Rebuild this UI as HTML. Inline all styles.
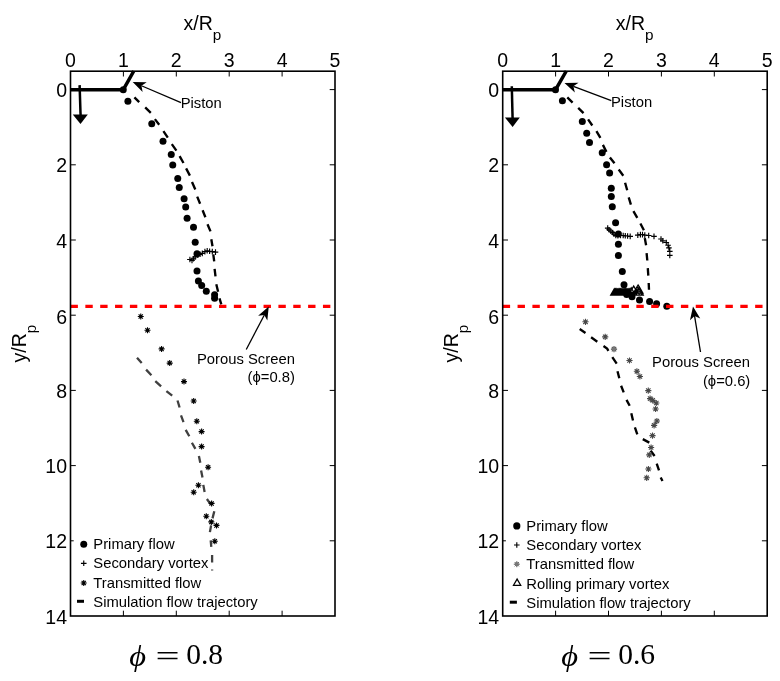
<!DOCTYPE html>
<html lang="en"><head><meta charset="utf-8"><title>Flow trajectories</title>
<style>html,body{margin:0;padding:0;background:#fff}body{width:780px;height:681px;overflow:hidden}svg{display:block}text{font-family:"Liberation Sans",sans-serif;fill:#000}.m{font-family:"Liberation Serif",serif}</style>
</head><body>
<svg width="780" height="681" viewBox="0 0 780 681">
<rect width="780" height="681" fill="#fff"/>
<g>
<path d="M70.5 89.8H123.2L133.8 71" stroke="#000" stroke-width="3.5" fill="none" stroke-linejoin="round"/>
<path d="M79.6 85.1L80.6 116" stroke="#000" stroke-width="2.5" fill="none"/><polygon points="72.8,114.6 87.8,114.6 80.5,124.1" fill="#000"/>
</g>
<g>
<path d="M502.7 89.8H555.5L566.3 71" stroke="#000" stroke-width="3.5" fill="none" stroke-linejoin="round"/>
<path d="M511.8 86.3L512.6 119" stroke="#000" stroke-width="2.5" fill="none"/><polygon points="504.9,117.4 519.8,117.4 512.6,127.1" fill="#000"/>
</g>
<g>
<path d="M134.4 97.3 L139.2 102.1M145.2 107.4 L150.8 112.9M154.9 119.1 L159.2 124.7M163.4 131.2 L167.8 137.7M171.8 144.1 L176.4 150.6M179.6 156.2 L183.5 163M186.1 168.4 L189.9 175.6M192 182.1 L195.3 189.4M197.2 196.6 L200.1 203.7M202.6 210.2 L205.4 217.3M207.5 224.3 L210.5 231.4M211.3 239.3 L212.5 246.3M213.3 254.3 L214.2 261.3M214.6 268.9 L215.5 276.3M216.3 284.2 L218.1 291.8M219.5 298.3 L221.3 304.4" stroke="#000" stroke-width="2.35" fill="none" stroke-linejoin="round"/>
<path d="M137 357.7 L141.7 363M146.1 369.6 L151.4 375.3M155.3 381.1 L161.1 386.4M166.4 391.1 L172.2 395.7M177.5 400.5 L179.6 407.5M181 415.4 L183.5 422.1M185.7 429.9 L189.3 436.2M191.9 442.7 L195.4 448.9M198.9 455.9 L200.3 462.8M201.1 470.5 L202.5 477.5M203.3 484.9 L204.6 492M206.9 499 L210.7 504.3M214.3 511.3 L212.5 518.4M211.1 525.4 L209.9 532.1M210.7 540.4 L211.3 546.9M212.1 555 L212.1 562.4M212.1 569.4 L212.1 570.6" stroke="#404040" stroke-width="2.3" fill="none" stroke-linejoin="round"/>
<circle cx="123.25" cy="89.7" r="3.5"/><circle cx="127.9" cy="101.2" r="3.5"/><circle cx="151.75" cy="123.75" r="3.5"/><circle cx="163" cy="141.25" r="3.5"/><circle cx="171.25" cy="154.5" r="3.5"/><circle cx="172.75" cy="165" r="3.5"/><circle cx="177.75" cy="178.5" r="3.5"/><circle cx="179.25" cy="187.5" r="3.5"/><circle cx="184.1" cy="198.8" r="3.5"/><circle cx="185.7" cy="207.1" r="3.5"/><circle cx="187.1" cy="218.2" r="3.5"/><circle cx="193.5" cy="227.3" r="3.5"/><circle cx="195.2" cy="242.3" r="3.5"/><circle cx="197" cy="253.7" r="3.5"/><circle cx="197" cy="271" r="3.5"/><circle cx="198.4" cy="281" r="3.5"/><circle cx="201.7" cy="285.6" r="3.5"/><circle cx="206.3" cy="291.2" r="3.5"/><circle cx="214.6" cy="294.8" r="3.5"/><circle cx="214.6" cy="298.3" r="3.5"/>
<path d="M187.1 259.5h5.6M189.9 256.7v5.6M189.2 260.4h5.6M192 257.6v5.6M190.7 258.7h5.6M193.5 255.9v5.6M192.4 256.9h5.6M195.2 254.1v5.6M195.1 255.1h5.6M197.9 252.3v5.6M197.3 254.3h5.6M200.1 251.5v5.6M199.5 253.4h5.6M202.3 250.6v5.6M202.1 251.6h5.6M204.9 248.8v5.6M204.4 250.7h5.6M207.2 247.9v5.6M206.8 251.3h5.6M209.6 248.5v5.6M209.5 251.6h5.6M212.3 248.8v5.6M212.7 252.1h5.6M215.5 249.3v5.6" stroke="#000" stroke-width="1.15" fill="none"/>
<path d="M137.75 316.5h6M140.75 313.5v6M138.63 314.38l4.24 4.24M138.63 318.62l4.24 -4.24M144.5 330.25h6M147.5 327.25v6M145.38 328.13l4.24 4.24M145.38 332.37l4.24 -4.24M158.6 348.9h6M161.6 345.9v6M159.48 346.78l4.24 4.24M159.48 351.02l4.24 -4.24M166.7 363.1h6M169.7 360.1v6M167.58 360.98l4.24 4.24M167.58 365.22l4.24 -4.24M181 381.6h6M184 378.6v6M181.88 379.48l4.24 4.24M181.88 383.72l4.24 -4.24M190.7 401h6M193.7 398v6M191.58 398.88l4.24 4.24M191.58 403.12l4.24 -4.24M193.8 421.2h6M196.8 418.2v6M194.68 419.08l4.24 4.24M194.68 423.32l4.24 -4.24M198.6 431.6h6M201.6 428.6v6M199.48 429.48l4.24 4.24M199.48 433.72l4.24 -4.24M198.6 446.6h6M201.6 443.6v6M199.48 444.48l4.24 4.24M199.48 448.72l4.24 -4.24M205.1 467.3h6M208.1 464.3v6M205.98 465.18l4.24 4.24M205.98 469.42l4.24 -4.24M195.4 485.3h6M198.4 482.3v6M196.28 483.18l4.24 4.24M196.28 487.42l4.24 -4.24M190.7 492.3h6M193.7 489.3v6M191.58 490.18l4.24 4.24M191.58 494.42l4.24 -4.24M208.6 503.4h6M211.6 500.4v6M209.48 501.28l4.24 4.24M209.48 505.52l4.24 -4.24M203.3 516.3h6M206.3 513.3v6M204.18 514.18l4.24 4.24M204.18 518.42l4.24 -4.24M208.3 521.9h6M211.3 518.9v6M209.18 519.78l4.24 4.24M209.18 524.02l4.24 -4.24M213.5 525.4h6M216.5 522.4v6M214.38 523.28l4.24 4.24M214.38 527.52l4.24 -4.24M211.8 541.3h6M214.8 538.3v6M212.68 539.18l4.24 4.24M212.68 543.42l4.24 -4.24" stroke="#000" stroke-width="1.1" fill="none"/>
</g>
<g>
<path d="M567.3 97.3 L572.6 102.6M578.2 107.9 L583.5 113.2M588.1 119.3 L592.3 125.5M596.4 131.1 L600.4 137.8M602.9 144.9 L606.4 151.9M609.9 157.5 L614.5 163.3M618.7 169.5 L623.3 175.7M625.1 182.7 L627.2 190.3M628.7 197.4 L630.9 204.7M633.4 211.2 L637.3 217.9M640.4 223.5 L643.9 230.2M644.8 238.1 L646.1 245.2M646.6 253.1 L647.3 260.5M647.8 268.1 L648.3 275.6M648.7 283 L649 289.7" stroke="#000" stroke-width="2.35" fill="none" stroke-linejoin="round"/>
<path d="M579.7 329 L585.5 332.9M591.1 337.3 L597.3 341.7M603.5 346.1 L607 348.4 L608.4 350.8M612.3 357.2 L616.7 363.7M617.5 371.3 L619.3 378.3M621.1 385.7 L623.7 392.4M626.5 399.9 L629.7 405.8M631.3 413.3 L633 420.5M634.9 427.4 L637.3 434.3M642.8 439.1 L649.3 442.6M650.7 450.7 L654.6 456M656.7 463.7 L659 470.4M660.7 477.5 L662.5 481" stroke="#000" stroke-width="2.35" fill="none" stroke-linejoin="round"/>
<circle cx="555.5" cy="89.7" r="3.5"/><circle cx="562.4" cy="100.8" r="3.5"/><circle cx="582.3" cy="121.4" r="3.5"/><circle cx="586.7" cy="133.2" r="3.5"/><circle cx="589.5" cy="142.4" r="3.5"/><circle cx="602.2" cy="152.8" r="3.5"/><circle cx="606.6" cy="164.8" r="3.5"/><circle cx="609.6" cy="173" r="3.5"/><circle cx="611.3" cy="188.3" r="3.5"/><circle cx="611.3" cy="196.5" r="3.5"/><circle cx="612.3" cy="206.8" r="3.5"/><circle cx="615.6" cy="222.8" r="3.5"/><circle cx="618.4" cy="234.1" r="3.5"/><circle cx="618.4" cy="244.3" r="3.5"/><circle cx="618.4" cy="255.4" r="3.5"/><circle cx="622.3" cy="271.6" r="3.5"/><circle cx="624" cy="284.8" r="3.5"/><circle cx="626.7" cy="294.5" r="3.5"/><circle cx="632" cy="296.8" r="3.5"/><circle cx="639.5" cy="300.1" r="3.5"/><circle cx="649.6" cy="301.5" r="3.5"/><circle cx="656.6" cy="303.8" r="3.5"/><circle cx="666.8" cy="306.3" r="3.5"/>
<path d="M604.9 228.1h5.6M607.7 225.3v5.6M606.3 229.7h5.6M609.1 226.9v5.6M608 231.1h5.6M610.8 228.3v5.6M609.8 232.5h5.6M612.6 229.7v5.6M611.2 234.1h5.6M614 231.3v5.6M613 235.5h5.6M615.8 232.7v5.6M615.1 235.8h5.6M617.9 233v5.6M617.7 235.5h5.6M620.5 232.7v5.6M620.4 235.5h5.6M623.2 232.7v5.6M622.5 235.8h5.6M625.3 233v5.6M624.8 236h5.6M627.6 233.2v5.6M627.4 236.4h5.6M630.2 233.6v5.6M635 235.1h5.6M637.8 232.3v5.6M637.6 234.6h5.6M640.4 231.8v5.6M639.7 234.6h5.6M642.5 231.8v5.6M642 235.1h5.6M644.8 232.3v5.6M645.9 235.5h5.6M648.7 232.7v5.6M651.2 236.4h5.6M654 233.6v5.6M658.2 239h5.6M661 236.2v5.6M660 240.8h5.6M662.8 238v5.6M663.5 242.5h5.6M666.3 239.7v5.6M665.3 245.2h5.6M668.1 242.4v5.6M666.1 247.8h5.6M668.9 245v5.6M667 251.3h5.6M669.8 248.5v5.6M667 255.4h5.6M669.8 252.6v5.6" stroke="#000" stroke-width="1.15" fill="none"/>
<path d="M610.7 295L614.3 288.8L617.9 295ZM611.95 295L615.55 288.8L619.15 295ZM613.2 295L616.8 288.8L620.4 295ZM614.45 295L618.05 288.8L621.65 295ZM615.7 295L619.3 288.8L622.9 295ZM616.95 295L620.55 288.8L624.15 295ZM618.2 295L621.8 288.8L625.4 295ZM619.45 295L623.05 288.8L626.65 295ZM620.7 295L624.3 288.8L627.9 295ZM621.95 295L625.55 288.8L629.15 295ZM623.2 295L626.8 288.8L630.4 295ZM624.45 295L628.05 288.8L631.65 295ZM625.7 295L629.3 288.8L632.9 295ZM627.6 294L631.2 287.8L634.8 294ZM630.1 292.3L633.7 286.1L637.3 292.3ZM632.4 295L636 288.8L639.6 295ZM634.6 295L638.2 288.8L641.8 295ZM636.1 295L639.7 288.8L643.3 295ZM633.4 293L637 286.8L640.6 293ZM635.7 293L639.3 286.8L642.9 293ZM634.5 291.2L638.1 285L641.7 291.2Z" stroke="#000" stroke-width="1.25" fill="none" stroke-linejoin="miter"/>
<path d="M582.4 321.8h6.2M585.5 318.7v6.2M583.31 319.61l4.38 4.38M583.31 323.99l4.38 -4.38M602.1 336.9h6.2M605.2 333.8v6.2M603.01 334.71l4.38 4.38M603.01 339.09l4.38 -4.38M610.9 349.1h6.2M614 346v6.2M611.81 346.91l4.38 4.38M611.81 351.29l4.38 -4.38M626.4 360.5h6.2M629.5 357.4v6.2M627.31 358.31l4.38 4.38M627.31 362.69l4.38 -4.38M633.8 371.3h6.2M636.9 368.2v6.2M634.71 369.11l4.38 4.38M634.71 373.49l4.38 -4.38M636.8 376.5h6.2M639.9 373.4v6.2M637.71 374.31l4.38 4.38M637.71 378.69l4.38 -4.38M645.2 390.6h6.2M648.3 387.5v6.2M646.11 388.41l4.38 4.38M646.11 392.79l4.38 -4.38M647 398.6h6.2M650.1 395.5v6.2M647.91 396.41l4.38 4.38M647.91 400.79l4.38 -4.38M649.6 400.3h6.2M652.7 397.2v6.2M650.51 398.11l4.38 4.38M650.51 402.49l4.38 -4.38M653.2 403h6.2M656.3 399.9v6.2M654.11 400.81l4.38 4.38M654.11 405.19l4.38 -4.38M652.5 409h6.2M655.6 405.9v6.2M653.41 406.81l4.38 4.38M653.41 411.19l4.38 -4.38M653.8 421h6.2M656.9 417.9v6.2M654.71 418.81l4.38 4.38M654.71 423.19l4.38 -4.38M651 425.4h6.2M654.1 422.3v6.2M651.91 423.21l4.38 4.38M651.91 427.59l4.38 -4.38M649.4 435.6h6.2M652.5 432.5v6.2M650.31 433.41l4.38 4.38M650.31 437.79l4.38 -4.38M648 447.5h6.2M651.1 444.4v6.2M648.91 445.31l4.38 4.38M648.91 449.69l4.38 -4.38M646.2 454.9h6.2M649.3 451.8v6.2M647.11 452.71l4.38 4.38M647.11 457.09l4.38 -4.38M645.3 469h6.2M648.4 465.9v6.2M646.21 466.81l4.38 4.38M646.21 471.19l4.38 -4.38M643.6 477.8h6.2M646.7 474.7v6.2M644.51 475.61l4.38 4.38M644.51 479.99l4.38 -4.38" stroke="#484848" stroke-width="1.1" fill="none"/>
<circle cx="614" cy="349.1" r="2.1" fill="#777" stroke="none"/>
</g>
<line x1="70.5" y1="306.4" x2="335" y2="306.4" stroke="#f00" stroke-width="3.3" stroke-dasharray="7.4 7.45"/>
<line x1="502.7" y1="306.4" x2="767.2" y2="306.4" stroke="#f00" stroke-width="3.3" stroke-dasharray="7.4 7.45"/>
<g><rect x="70.5" y="71.2" width="264.5" height="544.8" fill="none" stroke="#000" stroke-width="1.6"/><path d="M123.4 71.2v5.3M123.4 616v-5.3M176.3 71.2v5.3M176.3 616v-5.3M229.2 71.2v5.3M229.2 616v-5.3M282.1 71.2v5.3M282.1 616v-5.3M70.5 89.6h5.3M335 89.6h-5.3M70.5 164.8h5.3M335 164.8h-5.3M70.5 240h5.3M335 240h-5.3M70.5 315.2h5.3M335 315.2h-5.3M70.5 390.4h5.3M335 390.4h-5.3M70.5 465.6h5.3M335 465.6h-5.3M70.5 540.8h5.3M335 540.8h-5.3" stroke="#000" stroke-width="1" fill="none"/><rect x="73.7" y="537.8" width="4" height="6" fill="#fff"/><g font-size="19.5" text-anchor="middle"><text x="70.5" y="67">0</text><text x="123.4" y="67">1</text><text x="176.3" y="67">2</text><text x="229.2" y="67">3</text><text x="282.1" y="67">4</text><text x="335" y="67">5</text></g><g font-size="19.5" text-anchor="end"><text x="67" y="96.8">0</text><text x="67" y="172">2</text><text x="67" y="248.2">4</text><text x="67" y="323.7">6</text><text x="67" y="397.9">8</text><text x="67" y="472.8">10</text><text x="67" y="548">12</text><text x="67" y="623.7">14</text></g></g>
<g><rect x="502.7" y="71.2" width="264.5" height="544.8" fill="none" stroke="#000" stroke-width="1.6"/><path d="M555.6 71.2v5.3M555.6 616v-5.3M608.5 71.2v5.3M608.5 616v-5.3M661.4 71.2v5.3M661.4 616v-5.3M714.3 71.2v5.3M714.3 616v-5.3M502.7 89.6h5.3M767.2 89.6h-5.3M502.7 164.8h5.3M767.2 164.8h-5.3M502.7 240h5.3M767.2 240h-5.3M502.7 315.2h5.3M767.2 315.2h-5.3M502.7 390.4h5.3M767.2 390.4h-5.3M502.7 465.6h5.3M767.2 465.6h-5.3M502.7 540.8h5.3M767.2 540.8h-5.3" stroke="#000" stroke-width="1" fill="none"/><rect x="505.9" y="537.8" width="4" height="6" fill="#fff"/><g font-size="19.5" text-anchor="middle"><text x="502.7" y="67">0</text><text x="555.6" y="67">1</text><text x="608.5" y="67">2</text><text x="661.4" y="67">3</text><text x="714.3" y="67">4</text><text x="767.2" y="67">5</text></g><g font-size="19.5" text-anchor="end"><text x="499.2" y="96.8">0</text><text x="499.2" y="172">2</text><text x="499.2" y="248.2">4</text><text x="499.2" y="323.7">6</text><text x="499.2" y="397.9">8</text><text x="499.2" y="472.8">10</text><text x="499.2" y="548">12</text><text x="499.2" y="623.7">14</text></g></g>
<text x="183.55" y="30.2" font-size="19.5">x/R<tspan font-size="15.3" dy="9.5">p</tspan></text>
<text transform="translate(26.1 362.5) rotate(-90)" font-size="19.5">y/R<tspan font-size="15.3" dy="9.5">p</tspan></text>
<text x="615.75" y="30.2" font-size="19.5">x/R<tspan font-size="15.3" dy="9.5">p</tspan></text>
<text transform="translate(458.3 362.5) rotate(-90)" font-size="19.5">y/R<tspan font-size="15.3" dy="9.5">p</tspan></text>
<g font-size="14.8">
<line x1="181" y1="102.6" x2="141.44" y2="85.73" stroke="#000" stroke-width="1.3"/><polygon points="132.7,82 146.7,82.32 141.44,85.73 142.62,91.88" fill="#000"/>
<text x="180.7" y="108.3">Piston</text>
<line x1="611.3" y1="100.6" x2="573.39" y2="86.34" stroke="#000" stroke-width="1.3"/><polygon points="564.5,83 578.5,82.71 573.39,86.34 574.84,92.44" fill="#000"/>
<text x="611" y="106.6">Piston</text>
<line x1="246.25" y1="349.5" x2="264.34" y2="315.01" stroke="#000" stroke-width="1.3"/><polygon points="268.75,306.6 267.32,320.53 264.34,315.01 258.11,315.7" fill="#000"/>
<text x="197" y="363.8">Porous Screen</text>
<text x="294.9" y="382" text-anchor="end">(ϕ=0.8)</text>
<line x1="700.5" y1="352" x2="694.55" y2="315.97" stroke="#000" stroke-width="1.3"/><polygon points="693,306.6 700.25,318.58 694.55,315.97 689.99,320.27" fill="#000"/>
<text x="652.1" y="367.4">Porous Screen</text>
<text x="750.3" y="385.7" text-anchor="end">(ϕ=0.6)</text>
</g>
<g font-size="14.8">
<circle cx="83.75" cy="544.3" r="3.5"/>
<text x="93.3" y="548.8">Primary flow</text>
<path d="M80.95 563.3h5.6M83.75 560.5v5.6" stroke="#000" stroke-width="1.15" fill="none"/>
<text x="93.3" y="567.8">Secondary vortex</text>
<path d="M80.75 583h6M83.75 580v6M81.63 580.88l4.24 4.24M81.63 585.12l4.24 -4.24" stroke="#000" stroke-width="1.1" fill="none"/>
<text x="93.3" y="587.5">Transmitted flow</text>
<line x1="77" y1="601.3" x2="84" y2="601.3" stroke="#000" stroke-width="3"/>
<text x="93.3" y="607">Simulation flow trajectory</text>
<circle cx="516.8" cy="525.9" r="3.6"/>
<text x="526.3" y="531.3">Primary flow</text>
<path d="M514 545h5.6M516.8 542.2v5.6" stroke="#000" stroke-width="1.15" fill="none"/>
<text x="526.3" y="550.2">Secondary vortex</text>
<path d="M513.8 564.2h6M516.8 561.2v6M514.68 562.08l4.24 4.24M514.68 566.32l4.24 -4.24" stroke="#555" stroke-width="0.95" fill="none"/><circle cx="516.8" cy="564.2" r="2.1" fill="#777"/>
<text x="526.3" y="569.4">Transmitted flow</text>
<path d="M513.5 585.3L517.1 579.1L520.7 585.3Z" stroke="#000" stroke-width="1.25" fill="none" stroke-linejoin="miter"/>
<text x="526.3" y="588.6">Rolling primary vortex</text>
<line x1="509.8" y1="602.2" x2="516.9" y2="602.2" stroke="#000" stroke-width="3"/>
<text x="526.3" y="608">Simulation flow trajectory</text>
</g>
<g class="m" font-size="29.5">
<text class="m" transform="translate(129.2 666) scale(1.1 1)" font-style="italic">ϕ</text>
<text class="m" transform="translate(155.4 666.4) scale(1.45 1)">=</text>
<text class="m" x="186.2" y="664.3">0.8</text>
<text class="m" transform="translate(561.2 666) scale(1.1 1)" font-style="italic">ϕ</text>
<text class="m" transform="translate(587.4 666.4) scale(1.45 1)">=</text>
<text class="m" x="618.2" y="664.3">0.6</text>
</g>
</svg>
</body></html>
